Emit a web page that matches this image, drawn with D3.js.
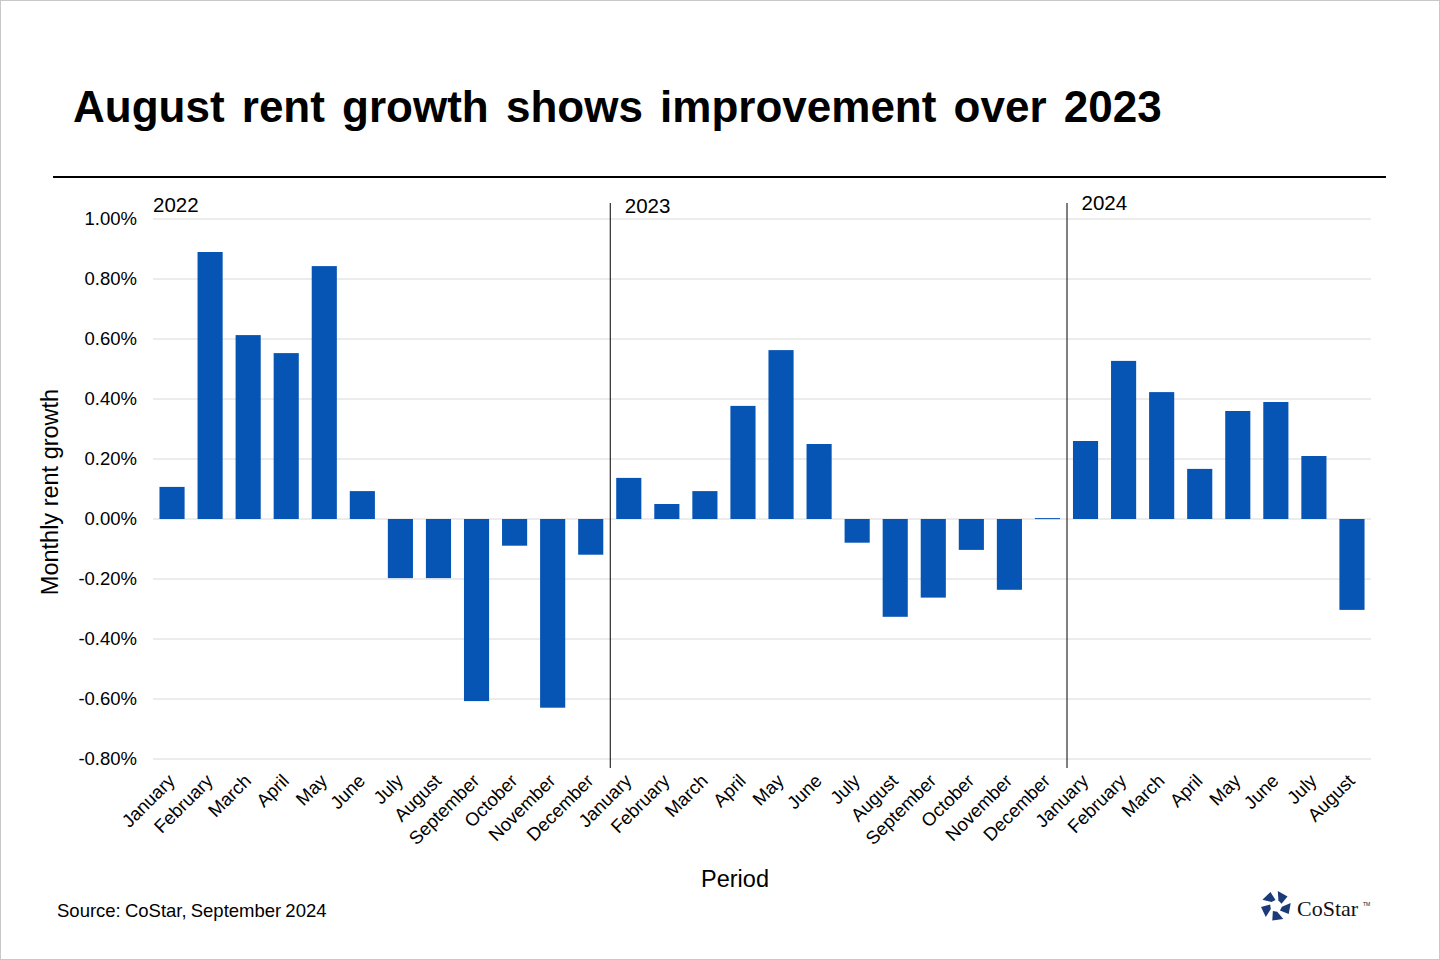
<!DOCTYPE html>
<html>
<head>
<meta charset="utf-8">
<script src="https://cdn.jsdelivr.net/npm/d3@7"></script>
<style>
  body { margin: 0; background: #fff; }
  text { font-family: Arial, "Liberation Sans", sans-serif; }
</style>
</head>
<body>
<div id="chart"></div>
<script>
// Data
const years = ["2022", "2023", "2024"];
const months = ["January","February","March","April","May","June","July","August","September","October","November","December"];
const growth2022 = [0.107, 0.89, 0.613, 0.553, 0.843, 0.093, -0.197, -0.197, -0.607, -0.089, -0.629, -0.119];
const growth2023 = [0.137, 0.05, 0.093, 0.377, 0.563, 0.25, -0.079, -0.326, -0.262, -0.103, -0.236, 0.003];
const growth2024 = [0.26, 0.527, 0.423, 0.167, 0.36, 0.39, 0.21, -0.303];
const yTicks = [1.0, 0.8, 0.6, 0.4, 0.2, 0.0, -0.2, -0.4, -0.6, -0.8];

const W = 1440, H = 960;
const svg = d3.select("#chart").append("svg").attr("width", W).attr("height", H);

// outer frame
svg.append("rect").attr("x", 0.5).attr("y", 0.5).attr("width", W - 1).attr("height", H - 1)
  .attr("fill", "#fff").attr("stroke", "#c8c8c8");

// title
svg.append("text")
  .attr("x", 73).attr("y", 122)
  .style("font-size", "44px").style("font-weight", "bold").style("word-spacing", "5px")
  .attr("fill", "#000")
  .text("August rent growth shows improvement over 2023");

svg.append("line").attr("x1", 53).attr("x2", 1386).attr("y1", 177).attr("y2", 177)
  .attr("stroke", "#000").attr("stroke-width", 2);

// build rows
const series = [growth2022, growth2023, growth2024];
const rows = [];
series.forEach((vals, yi) => vals.forEach((v, mi) => rows.push({ key: years[yi] + "-" + mi, year: years[yi], month: months[mi], value: v })));

const x = d3.scaleBand().domain(rows.map(d => d.key)).range([153, 1371]).paddingInner(0.34).paddingOuter(0.17);
const y = d3.scaleLinear().domain([-0.8, 1.0]).range([759, 219]);

// grid
svg.append("g").selectAll("line").data(yTicks).join("line")
  .attr("x1", 153).attr("x2", 1371)
  .attr("y1", d => y(d)).attr("y2", d => y(d))
  .attr("stroke", "#d9d9d9").attr("stroke-width", 1);

// y axis labels (plain hyphen for negatives)
svg.append("g").selectAll("text").data(yTicks).join("text")
  .attr("x", 137).attr("y", d => y(d)).attr("dy", "0.35em")
  .attr("text-anchor", "end").style("font-size", "18.5px").attr("fill", "#000")
  .text(d => (d < 0 ? "-" : "") + Math.abs(d).toFixed(2) + "%");

// bars
svg.append("g").selectAll("rect").data(rows).join("rect")
  .attr("x", d => x(d.key))
  .attr("width", x.bandwidth())
  .attr("y", d => y(Math.max(0, d.value)))
  .attr("height", d => Math.max(1, Math.abs(y(d.value) - y(0))))
  .attr("fill", "#0655b4");

// year separators + labels
const step = x.step();
years.forEach((yr, i) => {
  const first = rows.find(d => d.year === yr);
  const bx = x(first.key) - (step - x.bandwidth()) / 2;
  if (i > 0) {
    svg.append("line").attr("x1", bx + 0.5).attr("x2", bx + 0.5).attr("y1", 203).attr("y2", 768)
      .attr("stroke", "#000").attr("stroke-width", 1);
  }
  svg.append("text")
    .attr("x", i === 0 ? bx : bx + 15).attr("y", i === 0 ? 212 : (i === 1 ? 213 : 210))
    .style("font-size", "20.5px").attr("fill", "#000").text(yr);
});

// x labels
svg.append("g").selectAll("text").data(rows).join("text")
  .attr("transform", d => `translate(${x(d.key) + x.bandwidth() / 2 + 4},${782}) rotate(-45)`)
  .attr("text-anchor", "end").style("font-size", "18.5px").attr("fill", "#000")
  .text(d => d.month);

// axis titles
svg.append("text")
  .attr("transform", "translate(58,492) rotate(-90)")
  .attr("text-anchor", "middle").style("font-size", "23.5px").attr("fill", "#000")
  .text("Monthly rent growth");

svg.append("text").attr("x", 735).attr("y", 887).attr("text-anchor", "middle")
  .style("font-size", "23.5px").attr("fill", "#000").text("Period");

// source
svg.append("text").attr("x", 57).attr("y", 917).style("font-size", "18.5px").style("word-spacing", "-1px")
  .attr("fill", "#000").text("Source: CoStar, September 2024");

// CoStar logo (approximate)
const logo = svg.append("g").attr("transform", "translate(1276,906)");
const n = 5;
for (let i = 0; i < n; i++) {
  const a0 = -Math.PI / 2 + i * 2 * Math.PI / n + 0.12;
  const a1 = a0 + 2 * Math.PI / n - 0.5;
  const ro = 15, ri = 6;
  const pts = [
    [ro * Math.cos(a0), ro * Math.sin(a0)],
    [ro * Math.cos(a1), ro * Math.sin(a1)],
    [ri * Math.cos(a1 + 0.3), ri * Math.sin(a1 + 0.3)],
    [ri * Math.cos(a0 + 0.3), ri * Math.sin(a0 + 0.3)]
  ];
  logo.append("polygon").attr("points", pts.map(p => p.join(",")).join(" ")).attr("fill", "#1a3a78");
}
svg.append("text").attr("x", 1297).attr("y", 916)
  .style("font-family", "'Liberation Serif', 'DejaVu Serif', serif").style("font-size", "22px")
  .attr("fill", "#111").text("CoStar");
svg.append("text").attr("x", 1363).attr("y", 906)
  .style("font-size", "5px").attr("fill", "#111").text("TM");
</script>
</body>
</html>
